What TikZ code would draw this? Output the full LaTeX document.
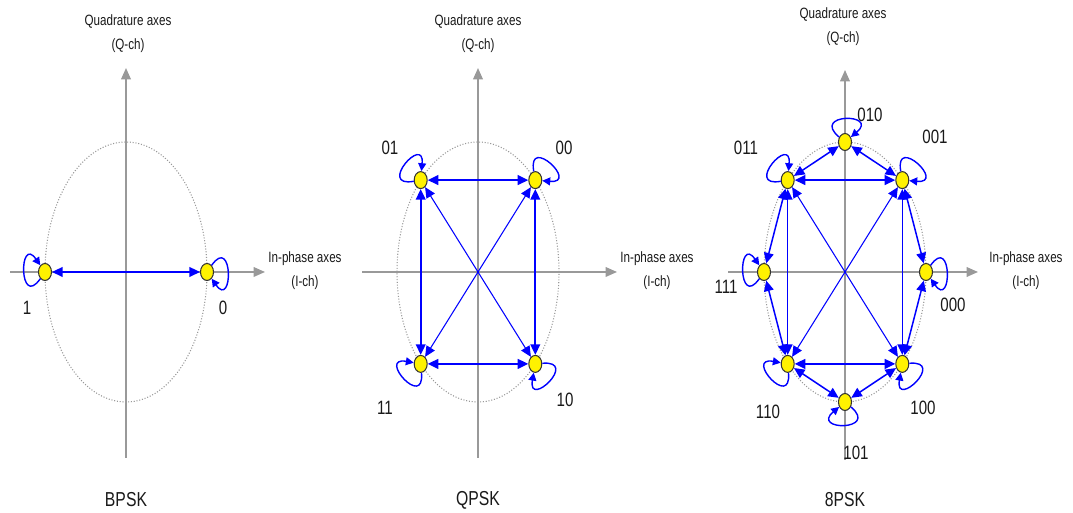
\documentclass[tikz,border=0pt]{standalone}
\usepackage{fontspec}
\newfontfamily\narrowfont[FakeStretch=0.78]{Liberation Sans}
\usetikzlibrary{arrows.meta,shapes.geometric}
\tikzset{
  sym/.style={ellipse, draw=black!80, fill=yellow, line width=0.6pt, minimum width=0.26cm, minimum height=0.34cm, inner sep=0pt},
  axisline/.style={draw=black!40, line width=0.9pt, -{Triangle[length=6.5pt, width=5.5pt]}},
  ring/.style={draw=black!40, densely dotted, line width=0.6pt},
  link/.style={{Triangle[length=6pt, width=5.5pt]}-{Triangle[length=6pt, width=5.5pt]}, blue, line width=1.1pt},
  midlink/.style={link, line width=0.85pt},
  thinlink/.style={link, line width=0.6pt},
  selfloop/.style={-{Triangle[length=4.5pt, width=4.5pt]}, blue, line width=0.8pt, distance=7.5mm},
  axislabel/.style={align=center, font=\narrowfont\fontsize{8.5}{13.5}\selectfont, text=black!90},
  symlabel/.style={font=\narrowfont\fontsize{11}{13}\selectfont, text=black!90},
  schemename/.style={font=\narrowfont\fontsize{11.5}{13}\selectfont, text=black!90},
}
\begin{document}
\begin{tikzpicture}[x=0.02cm, y=0.02cm]
  \useasboundingbox (0,0) rectangle (1073,513);
  % BPSK
  \begin{scope}[shift={(126,241)}]
    \draw[ring] (0,0) ellipse [x radius=81, y radius=130];
    \draw[axisline] (0,-186) -- (0,204);
    \draw[axisline] (-116,0) -- (139,0);
    \node[axislabel] (bq) at (2,238) {Quadrature axes\\(Q-ch)};
    \node[axislabel] (bi) at (179,1) {In-phase axes\\(I-ch)};
    \node[sym] (b1) at (-81,0) {};
    \node[sym] (b0) at (81,0) {};
    \node[symlabel] (lb1) at (-99,-36) {1};
    \node[symlabel] (lb0) at (97,-36) {0};
    \draw[link] (b1) -- (b0);
    \draw[selfloop] (b1) to[out=235, in=125] (b1);
    \draw[selfloop] (b0) to[out=55, in=-55] (b0);
    \node[schemename] (bname) at (0,-228) {BPSK};
  \end{scope}
  % QPSK
  \begin{scope}[shift={(478,241)}]
    \draw[ring] (0,0) ellipse [x radius=81, y radius=130];
    \draw[axisline] (0,-186) -- (0,204);
    \draw[axisline] (-116,0) -- (139,0);
    \node[axislabel] (qq) at (0,238) {Quadrature axes\\(Q-ch)};
    \node[axislabel] (qi) at (179,1) {In-phase axes\\(I-ch)};
    \node[sym] (q00) at (57.3,91.9) {};
    \node[sym] (q01) at (-57.3,91.9) {};
    \node[sym] (q11) at (-57.3,-91.9) {};
    \node[sym] (q10) at (57.3,-91.9) {};
    \node[symlabel] (lq00) at (86,124) {00};
    \node[symlabel] (lq01) at (-88,124) {01};
    \node[symlabel] (lq11) at (-93,-136) {11};
    \node[symlabel] (lq10) at (87,-128) {10};
    \draw[link] (q01) -- (q00);
    \draw[link] (q11) -- (q10);
    \draw[link] (q01) -- (q11);
    \draw[link] (q00) -- (q10);
    \draw[thinlink] (q01) -- (q10);
    \draw[thinlink] (q11) -- (q00);
    \draw[selfloop] (q00) to[out=100, in=-5] (q00);
    \draw[selfloop] (q01) to[out=190, in=85] (q01);
    \draw[selfloop] (q11) to[out=275, in=170] (q11);
    \draw[selfloop] (q10) to[out=5, in=-100] (q10);
    \node[schemename] (qname) at (0,-228) {QPSK};
  \end{scope}
  % 8PSK
  \begin{scope}[shift={(845,241)}]
    \draw[ring] (0,0) ellipse [x radius=81, y radius=130];
    \draw[axisline] (0,-188) -- (0,202);
    \draw[axisline] (-117,0) -- (133,0);
    \node[axislabel] (eq) at (-2,245) {Quadrature axes\\(Q-ch)};
    \node[axislabel] (ei) at (181,1) {In-phase axes\\(I-ch)};
    \node[sym] (e000) at (81,0) {};
    \node[sym] (e001) at (57.3,91.9) {};
    \node[sym] (e010) at (0,130) {};
    \node[sym] (e011) at (-57.3,91.9) {};
    \node[sym] (e111) at (-81,0) {};
    \node[sym] (e110) at (-57.3,-91.9) {};
    \node[sym] (e101) at (0,-130) {};
    \node[sym] (e100) at (57.3,-91.9) {};
    \node[symlabel] (le000) at (108,-33) {000};
    \node[symlabel] (le001) at (90,135) {001};
    \node[symlabel] (le010) at (25,157) {010};
    \node[symlabel] (le011) at (-99,124) {011};
    \node[symlabel] (le111) at (-119,-15) {111};
    \node[symlabel] (le110) at (-77,-140) {110};
    \node[symlabel] (le101) at (11,-181) {101};
    \node[symlabel] (le100) at (78,-136) {100};
    \draw[midlink] (e000) -- (e001);
    \draw[midlink] (e001) -- (e010);
    \draw[midlink] (e010) -- (e011);
    \draw[midlink] (e011) -- (e111);
    \draw[midlink] (e111) -- (e110);
    \draw[midlink] (e110) -- (e101);
    \draw[midlink] (e101) -- (e100);
    \draw[midlink] (e100) -- (e000);
    \draw[link] (e011) -- (e001);
    \draw[link] (e110) -- (e100);
    \draw[midlink] (e011) -- (e110);
    \draw[midlink] (e001) -- (e100);
    \draw[thinlink] (e011) -- (e100);
    \draw[thinlink] (e110) -- (e001);
    \draw[selfloop] (e000) to[out=55, in=-55] (e000);
    \draw[selfloop] (e001) to[out=100, in=-5] (e001);
    \draw[selfloop] (e010) to[out=140, in=40] (e010);
    \draw[selfloop] (e011) to[out=190, in=85] (e011);
    \draw[selfloop] (e111) to[out=235, in=125] (e111);
    \draw[selfloop] (e110) to[out=275, in=170] (e110);
    \draw[selfloop] (e101) to[out=-40, in=-140] (e101);
    \draw[selfloop] (e100) to[out=5, in=-100] (e100);
    \node[schemename] (ename) at (0,-228) {8PSK};
  \end{scope}
\end{tikzpicture}
\end{document}
